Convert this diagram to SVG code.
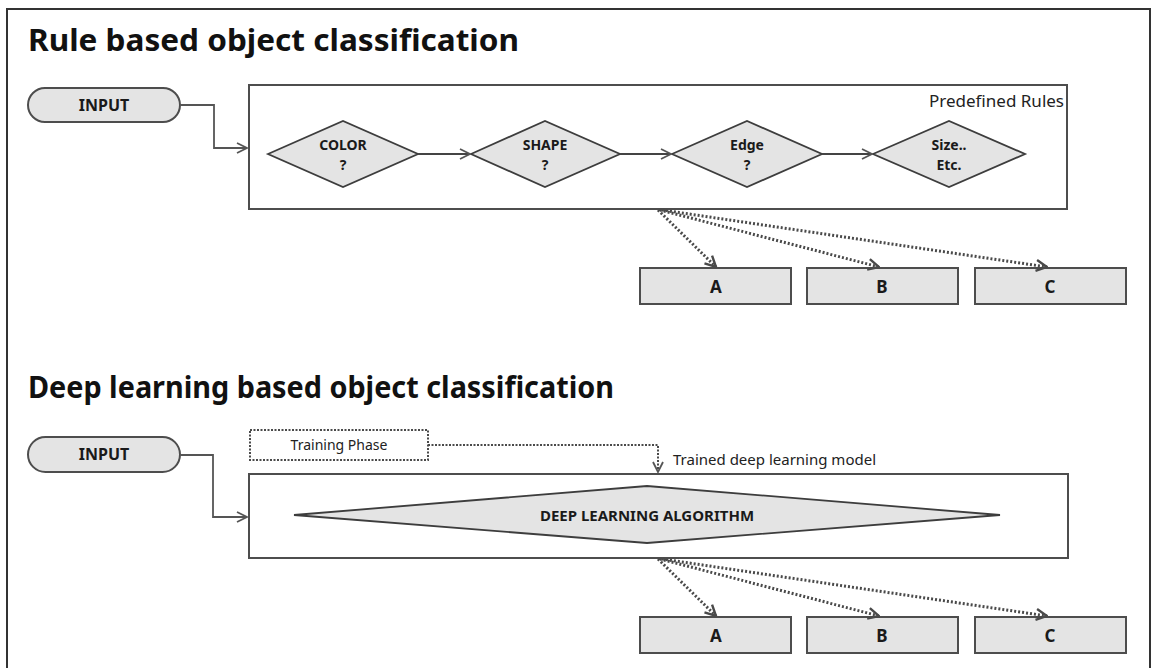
<svg xmlns="http://www.w3.org/2000/svg" width="1157" height="668" viewBox="0 0 1157 668">
  <style>
    .frame { fill: #fff; stroke: #333; stroke-width: 2; }
    .title { font-family: "Noto Sans", "Open Sans", sans-serif; font-weight: bold; font-size: 31px; fill: #111; }
    .pill { fill: #e4e4e4; stroke: #4d4d4d; stroke-width: 2; }
    .panel { fill: #fff; stroke: #4d4d4d; stroke-width: 2; }
    .dia { fill: #e4e4e4; stroke: #3d3d3d; stroke-width: 1.8; }
    .out { fill: #e4e4e4; stroke: #4d4d4d; stroke-width: 2; }
    .lbl { font-family: "Noto Sans", "Open Sans", sans-serif; font-weight: bold; fill: #1a1a1a; text-anchor: middle; }
    .dl { font-size: 14px; }
    .note { font-family: "Noto Sans", "Open Sans", sans-serif; fill: #222; }
    .solid { fill: none; stroke: #555; stroke-width: 1.8; }
    .flow { fill: none; stroke: #444; stroke-width: 2; }
    .dot { fill: none; stroke: #4a4a4a; stroke-width: 3; stroke-dasharray: 2 2; }
    .thin-dot { fill: none; stroke: #4a4a4a; stroke-width: 2; stroke-dasharray: 2 1.5; }
  </style>
  <defs>
    <marker id="arr" viewBox="0 0 12 12" refX="11" refY="6" markerWidth="12" markerHeight="12" markerUnits="userSpaceOnUse" orient="auto">
      <path d="M1,1 L11,6 L1,11" fill="none" stroke="#555" stroke-width="1.8"/>
    </marker>
    <marker id="arrDot" viewBox="0 0 12 12" refX="11" refY="6" markerWidth="13" markerHeight="13" markerUnits="userSpaceOnUse" orient="auto">
      <path d="M1,1 L11,6 L1,11" fill="none" stroke="#4a4a4a" stroke-width="2.2"/>
    </marker>
  </defs>

  <rect width="1157" height="668" fill="#fff"/>
  <rect class="frame" x="7" y="9" width="1143" height="690"/>

  <!-- Section headings -->
  <text class="title" x="28" y="51" textLength="491" lengthAdjust="spacingAndGlyphs">Rule based object classification</text>
  <text class="title" x="28" y="398" textLength="586" lengthAdjust="spacingAndGlyphs">Deep learning based object classification</text>

  <!-- Rule-based pipeline -->
  <g id="rule-input">
    <rect class="pill" x="28" y="88" width="152" height="34" rx="17"/>
    <text class="lbl" x="104" y="111" font-size="16">INPUT</text>
  </g>
  <g id="rule-panel">
    <rect class="panel" x="249" y="85" width="818" height="124"/>
    <text class="note" x="1064" y="107" font-size="17" text-anchor="end">Predefined Rules</text>
  </g>
  <g id="color">
    <polygon class="dia" points="268,154 343,121 418,154 343,187"/>
    <text class="lbl dl" x="343" y="150">COLOR</text>
    <text class="lbl dl" x="343" y="170">?</text>
  </g>
  <g id="shape">
    <polygon class="dia" points="471,154 545,121 620,154 545,187"/>
    <text class="lbl dl" x="545" y="150">SHAPE</text>
    <text class="lbl dl" x="545" y="170">?</text>
  </g>
  <g id="edge">
    <polygon class="dia" points="672,154 747,121 822,154 747,187"/>
    <text class="lbl dl" x="747" y="150">Edge</text>
    <text class="lbl dl" x="747" y="170">?</text>
  </g>
  <g id="size">
    <polygon class="dia" points="873,154 949,121 1025,154 949,187"/>
    <text class="lbl dl" x="949" y="150">Size..</text>
    <text class="lbl dl" x="949" y="170">Etc.</text>
  </g>
  <g id="rule-a">
    <rect class="out" x="640" y="268" width="151" height="36"/>
    <text class="lbl" x="716" y="293" font-size="17">A</text>
  </g>
  <g id="rule-b">
    <rect class="out" x="807" y="268" width="151" height="36"/>
    <text class="lbl" x="882" y="293" font-size="17">B</text>
  </g>
  <g id="rule-c">
    <rect class="out" x="975" y="268" width="151" height="36"/>
    <text class="lbl" x="1050" y="293" font-size="17">C</text>
  </g>

  <!-- Deep-learning pipeline -->
  <g id="dl-input">
    <rect class="pill" x="28" y="437" width="152" height="35" rx="17.5"/>
    <text class="lbl" x="104" y="460" font-size="16">INPUT</text>
  </g>
  <g id="training">
    <rect class="thin-dot" x="250" y="430" width="178" height="30"/>
    <text class="note" x="339" y="450" font-size="14" text-anchor="middle">Training Phase</text>
  </g>
  <g id="dl-panel">
    <rect class="panel" x="249" y="474" width="819" height="84"/>
    <polygon class="dia" points="294,515 647,486 1000,515 647,543"/>
    <text class="lbl" x="647" y="521" font-size="15">DEEP LEARNING ALGORITHM</text>
  </g>
  <text class="note" x="673" y="465" font-size="15">Trained deep learning model</text>
  <g id="dl-a">
    <rect class="out" x="640" y="617" width="151" height="36"/>
    <text class="lbl" x="716" y="642" font-size="17">A</text>
  </g>
  <g id="dl-b">
    <rect class="out" x="807" y="617" width="151" height="36"/>
    <text class="lbl" x="882" y="642" font-size="17">B</text>
  </g>
  <g id="dl-c">
    <rect class="out" x="975" y="617" width="151" height="36"/>
    <text class="lbl" x="1050" y="642" font-size="17">C</text>
  </g>

  <!-- Connectors -->
  <g id="connectors">
    <path class="solid" d="M180,105 H214 V148 H247" marker-end="url(#arr)"/>
    <path class="flow" d="M418,154 H470" marker-end="url(#arr)"/>
    <path class="flow" d="M620,154 H671" marker-end="url(#arr)"/>
    <path class="flow" d="M822,154 H872" marker-end="url(#arr)"/>
    <path class="dot" d="M658,210 L716,267" marker-end="url(#arrDot)"/>
    <path class="dot" d="M660,210 L879,267" marker-end="url(#arrDot)"/>
    <path class="dot" d="M662,210 L1047,267" marker-end="url(#arrDot)"/>

    <path class="solid" d="M180,455 H213 V517 H247" marker-end="url(#arr)"/>
    <path class="thin-dot" d="M428,445 H658 V472" marker-end="url(#arr)"/>
    <path class="dot" d="M658,559 L716,616" marker-end="url(#arrDot)"/>
    <path class="dot" d="M660,559 L879,616" marker-end="url(#arrDot)"/>
    <path class="dot" d="M662,559 L1047,616" marker-end="url(#arrDot)"/>
  </g>
</svg>
